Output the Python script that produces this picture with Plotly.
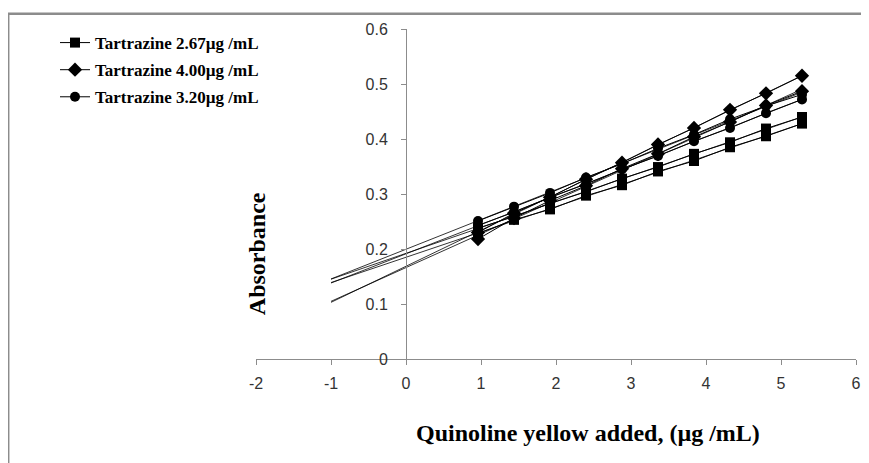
import numpy as np
import plotly.graph_objects as go

# ---- data ----
x_added = [0.96, 1.44, 1.92, 2.40, 2.88, 3.36, 3.84, 4.32, 4.80, 5.28]

series_names = ["Tartrazine 2.67\u00b5g /mL", "Tartrazine 2.67\u00b5g /mL",
                "Tartrazine 4.00\u00b5g /mL", "Tartrazine 4.00\u00b5g /mL",
                "Tartrazine 3.20\u00b5g /mL", "Tartrazine 3.20\u00b5g /mL"]
series_symbols = ["square", "square", "diamond", "diamond", "circle", "circle"]
series_in_legend = [True, False, True, False, True, False]

abs_267_a = [0.228, 0.253, 0.272, 0.297, 0.316, 0.341, 0.360, 0.385, 0.405, 0.428]
abs_267_b = [0.238, 0.259, 0.283, 0.304, 0.328, 0.349, 0.373, 0.394, 0.419, 0.440]
abs_400_a = [0.230, 0.265, 0.294, 0.327, 0.357, 0.390, 0.420, 0.453, 0.483, 0.515]
abs_400_b = [0.218, 0.256, 0.288, 0.315, 0.346, 0.373, 0.404, 0.431, 0.461, 0.487]
abs_320_a = [0.243, 0.267, 0.294, 0.318, 0.345, 0.369, 0.396, 0.420, 0.447, 0.472]
abs_320_b = [0.251, 0.277, 0.302, 0.330, 0.355, 0.383, 0.408, 0.436, 0.460, 0.481]

series_values = [abs_267_a, abs_267_b, abs_400_a, abs_400_b, abs_320_a, abs_320_b]
trend_start = -1.0

x_ticks = [-2, -1, 0, 1, 2, 3, 4, 5, 6]
x_tick_text = ["-2", "-1", "0", "1", "2", "3", "4", "5", "6"]
y_ticks = [0, 0.1, 0.2, 0.3, 0.4, 0.5, 0.6]
y_tick_text = ["0", "0.1", "0.2", "0.3", "0.4", "0.5", "0.6"]

SERIF = "Liberation Serif, Times New Roman, serif"
SANS = "Liberation Sans, Arial, sans-serif"

fig = go.Figure()

# trendlines (least squares, extended backwards)
for vals in series_values:
    m, b = np.polyfit(x_added, vals, 1)
    xt = np.array([trend_start, x_added[-1]])
    fig.add_trace(go.Scatter(x=xt, y=m * xt + b, mode="lines",
                             line=dict(color="black", width=0.8),
                             showlegend=False, hoverinfo="skip"))

legend_order = {"square": 1, "diamond": 2, "circle": 3}
for name, sym, show, vals in zip(series_names, series_symbols, series_in_legend, series_values):
    fig.add_trace(go.Scatter(
        x=x_added, y=vals, mode="lines+markers", name=name,
        line=dict(color="black", width=1),
        marker=dict(symbol=sym, size=10 if sym != "diamond" else 11, color="black"),
        showlegend=show, legendgroup=sym, legendrank=legend_order[sym]))

# y axis crossing at x=0
ypos = (0 - x_ticks[0]) / (x_ticks[-1] - x_ticks[0])

# page body has an 8px margin, so the figure is 8px smaller than the window
fig.update_layout(
    width=861, height=455,
    margin=dict(l=248, r=13, t=21, b=104, autoexpand=False),
    plot_bgcolor="white", paper_bgcolor="white",
    showlegend=True,
    legend=dict(x=-0.335, y=1.012, xanchor="left", yanchor="top",
                font=dict(family=SERIF, size=17, color="black", weight="bold"),
                traceorder="grouped", tracegroupgap=2,
                bgcolor="rgba(0,0,0,0)"),
    xaxis=dict(range=[x_ticks[0], x_ticks[-1]], tickvals=x_ticks, ticktext=x_tick_text,
               showgrid=False, zeroline=False, showline=True,
               linecolor="#8c8c8c", linewidth=1,
               ticks="outside", ticklen=5, tickcolor="#8c8c8c",
               ticklabelstandoff=5,
               tickfont=dict(family=SANS, size=16, color="#333333")),
    yaxis=dict(range=[y_ticks[0], y_ticks[-1]], tickvals=y_ticks, ticktext=y_tick_text,
               anchor="free", position=ypos,
               showgrid=False, zeroline=False, showline=True,
               linecolor="#8c8c8c", linewidth=1,
               ticks="outside", ticklen=5, tickcolor="#8c8c8c",
               ticklabelstandoff=10,
               tickfont=dict(family=SANS, size=16, color="#333333")),
)

fig.add_annotation(text="<b>Quinoline yellow added, (\u00b5g /mL)</b>",
                   xref="paper", yref="paper", x=0.553, y=-0.223,
                   xanchor="center", yanchor="middle",
                   showarrow=False, font=dict(family=SERIF, size=24, color="black"))
fig.add_annotation(text="<b>Absorbance</b>", textangle=-90,
                   xref="paper", yref="paper", x=0.003, y=0.32,
                   xanchor="center", yanchor="middle",
                   showarrow=False, font=dict(family=SERIF, size=24, color="black"))

# outer frame (partially visible, like the cropped original)
fig.add_shape(type="rect", xref="paper", yref="paper",
              x0=-0.413, x1=1.2, y0=-0.5, y1=1.046,
              line=dict(color="#8c8c8c", width=2.5), layer="below")

fig.write_html("out.html")
